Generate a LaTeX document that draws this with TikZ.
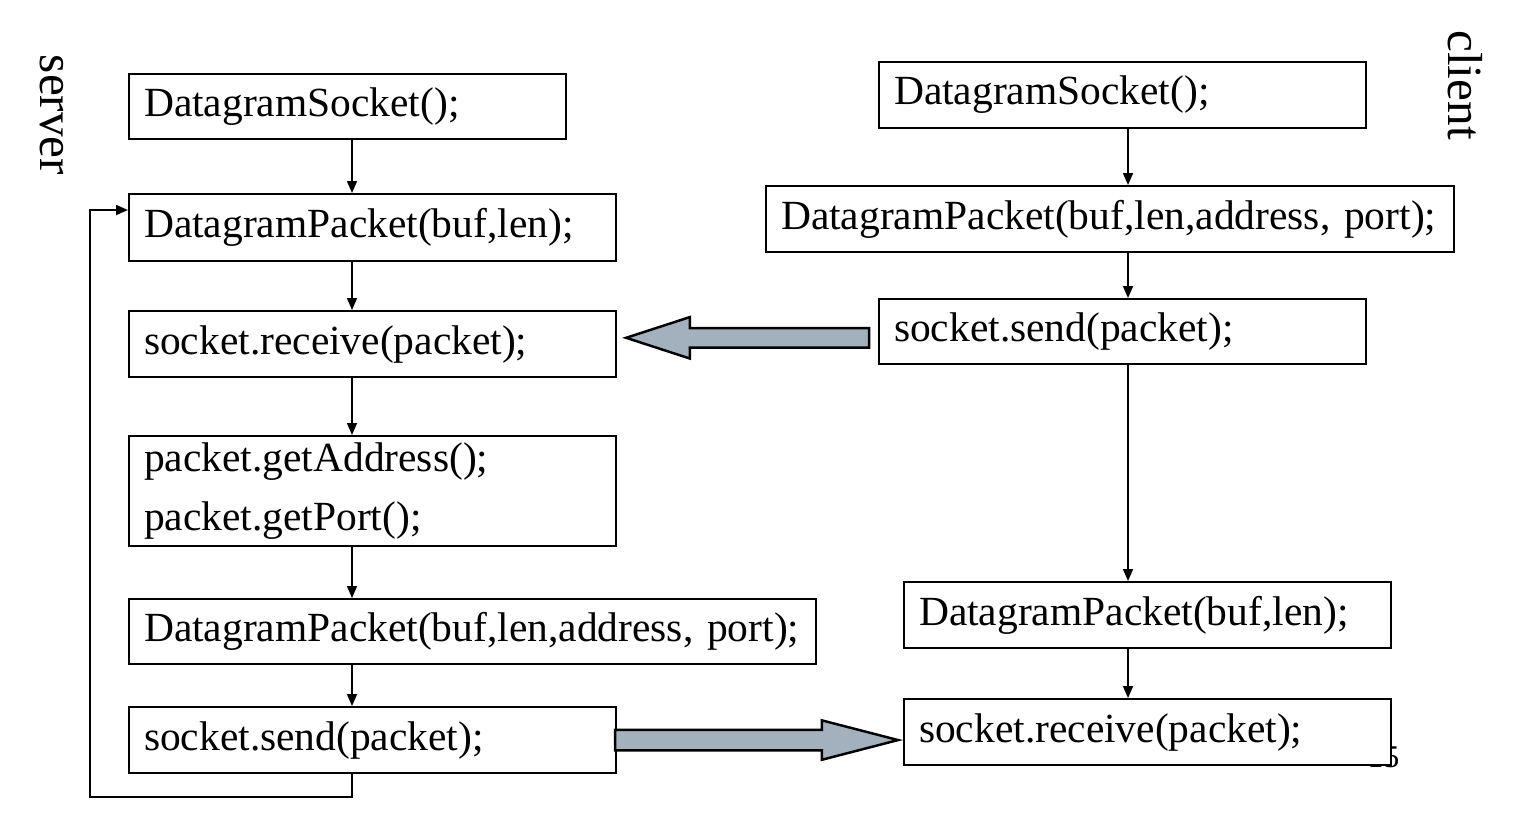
\documentclass[tikz,border=0pt]{standalone}
\usepackage{fontspec}
\setmainfont{Liberation Serif}
\usepackage{tikz}
\usetikzlibrary{arrows.meta,positioning,calc,shapes.arrows}
\definecolor{grayblue}{RGB}{163,177,191}
\newcommand\boxfont{\fontsize{11.8}{14}\selectfont}

\begin{document}
\begin{tikzpicture}[
    codebox/.style={draw, line width=0.6pt, fill=white, anchor=north west, inner xsep=0.15cm, inner ysep=0pt, align=left, font=\boxfont},
    arr/.style={-{Triangle[length=0.12cm,width=0.10cm]}, line width=0.5pt},
    bigarr/.style={single arrow, draw, line width=0.7pt, fill=grayblue, inner xsep=0pt, anchor=tip}
]
\useasboundingbox (0,0) rectangle (15.16,8.13);

% side labels and page number
\node[rotate=-90, font=\fontsize{14}{16}\selectfont] (srv) at (0.52,6.98) {server};
\node[rotate=-90, font=\fontsize{14}{16}\selectfont] (cli) at (14.65,7.28) {client};
\node[font=\fontsize{9}{10}\selectfont, anchor=base east, inner sep=0pt] (pgno) at (14.00,0.46) {15};

% server side
\node[codebox, text width=4.07cm, minimum height=0.65cm] (b1) at (1.28,7.40) {DatagramSocket();};
\node[codebox, text width=4.57cm, minimum height=0.67cm] (b2) at (1.28,6.20) {DatagramPacket(buf,len);};
\node[codebox, text width=4.57cm, minimum height=0.66cm] (b3) at (1.28,5.03) {socket.receive(packet);};
\node[codebox, text width=4.57cm, minimum height=1.10cm] (b4) at (1.28,3.78) {packet.getAddress();\\[3pt]packet.getPort();};
\node[codebox, text width=6.57cm, minimum height=0.65cm] (b5) at (1.28,2.15) {DatagramPacket(buf,len,address, port);};
\node[codebox, text width=4.57cm, minimum height=0.66cm] (b6) at (1.28,1.07) {socket.send(packet);};

% client side
\node[codebox, text width=4.57cm, minimum height=0.66cm] (c1) at (8.78,7.52) {DatagramSocket();};
\node[codebox, text width=6.58cm, minimum height=0.66cm] (c2) at (7.65,6.28) {DatagramPacket(buf,len,address, port);};
\node[codebox, text width=4.57cm, minimum height=0.65cm] (c3) at (8.78,5.15) {socket.send(packet);};
\node[codebox, text width=4.57cm, minimum height=0.66cm] (c4) at (9.03,2.32) {DatagramPacket(buf,len);};
\node[codebox, text width=4.57cm, minimum height=0.66cm] (c5) at (9.03,1.15) {socket.receive(packet);};

\coordinate (colL) at (3.52,0);
\coordinate (colR) at (11.28,0);
\coordinate (loopbot) at (0.90,0.16);
\coordinate (loopin) at (0.90,6.03);
\coordinate (midA) at ($(b3.east)!0.5!(c3.west)$);

\draw[arr] (b1.south -| colL) -- (b2.north -| colL);
\draw[arr] (b2.south -| colL) -- (b3.north -| colL);
\draw[arr] (b3.south -| colL) -- (b4.north -| colL);
\draw[arr] (b4.south -| colL) -- (b5.north -| colL);
\draw[arr] (b5.south -| colL) -- (b6.north -| colL);
\draw[arr] (b6.south -| colL) |- (loopbot) |- (b2.west |- loopin);

\draw[arr] (c1.south -| colR) -- (c2.north -| colR);
\draw[arr] (c2.south -| colR) -- (c3.north -| colR);
\draw[arr] (c3.south -| colR) -- (c4.north -| colR);
\draw[arr] (c4.south -| colR) -- (c5.north -| colR);

% packets going across
\node[bigarr, shape border rotate=180, minimum height=2.43cm, inner ysep=0.085cm,
      single arrow head extend=0.11cm, single arrow tip angle=36] (toserver)
      at ([xshift=0.05cm]midA -| b3.east) {};
\node[bigarr, minimum height=2.83cm, inner ysep=0.09cm,
      single arrow head extend=0.095cm, single arrow tip angle=29] (toclient)
      at (c5.west |- b6.east) {};
\end{tikzpicture}
\end{document}
